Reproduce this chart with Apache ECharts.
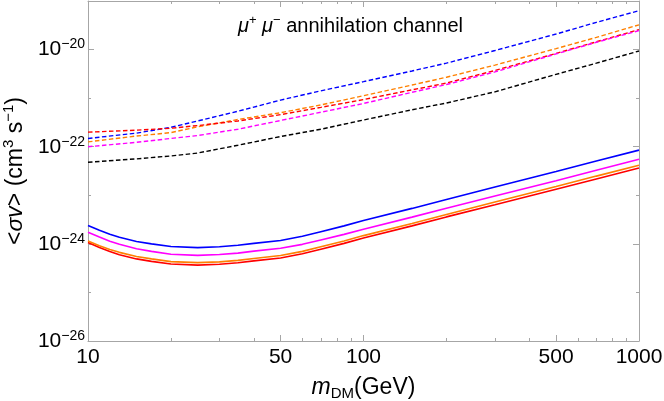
<!DOCTYPE html>
<html><head><meta charset="utf-8">
<script src="https://cdn.jsdelivr.net/npm/echarts@6/dist/echarts.min.js"></script>
<style>html,body{margin:0;padding:0;background:#fff}#c{width:664px;height:401px}</style>
</head><body><div id="c"></div>
<script>
// masses (GeV)
const massDashed = [10, 15, 20, 25, 35, 50, 70, 100, 150, 200, 300, 500, 700, 1000];
const massSolid  = [10, 11, 12, 13, 15, 17, 20, 25, 30, 35, 40, 50, 60, 70, 85, 100, 150, 200, 300, 500, 700, 1000];

// log10 of <sigma v> (cm^3 s^-1)
const blueDashedExp    = [-21.83,-21.72,-21.60,-21.47,-21.27,-21.04,-20.85,-20.66,-20.44,-20.28,-20.02,-19.68,-19.44,-19.20];
const orangeDashedExp  = [-21.90,-21.78,-21.71,-21.59,-21.44,-21.30,-21.14,-20.95,-20.73,-20.57,-20.32,-19.98,-19.75,-19.49];
const redDashedExp     = [-21.70,-21.66,-21.62,-21.565,-21.47,-21.34,-21.19,-21.03,-20.83,-20.69,-20.43,-20.08,-19.84,-19.59];
const magentaDashedExp = [-22.00,-21.91,-21.83,-21.77,-21.64,-21.46,-21.29,-21.11,-20.88,-20.72,-20.46,-20.09,-19.85,-19.61];
const blackDashedExp   = [-22.32,-22.25,-22.19,-22.13,-21.97,-21.79,-21.64,-21.45,-21.24,-21.10,-20.87,-20.51,-20.28,-20.03];

const blueSolidExp    = [-23.62,-23.72,-23.80,-23.865,-23.95,-24.00,-24.055,-24.077,-24.06,-24.03,-23.99,-23.93,-23.845,-23.75,-23.63,-23.52,-23.27,-23.085,-22.83,-22.51,-22.295,-22.07];
const magentaSolidExp = [-23.76,-23.86,-23.945,-24.01,-24.10,-24.155,-24.215,-24.237,-24.22,-24.19,-24.15,-24.09,-24.01,-23.92,-23.805,-23.70,-23.45,-23.265,-23.015,-22.70,-22.485,-22.26];
const orangeSolidExp  = [-23.94,-24.04,-24.115,-24.175,-24.26,-24.31,-24.365,-24.387,-24.37,-24.34,-24.30,-24.24,-24.155,-24.06,-23.94,-23.83,-23.58,-23.395,-23.14,-22.82,-22.605,-22.38];
const redSolidExp     = [-23.97,-24.075,-24.155,-24.225,-24.31,-24.36,-24.415,-24.437,-24.42,-24.39,-24.35,-24.29,-24.205,-24.11,-23.99,-23.88,-23.63,-23.445,-23.195,-22.875,-22.665,-22.44];

// ticks
const xMajorTicks = [10, 50, 100, 500, 1000];
const xMinorTicks = [20, 30, 40, 60, 70, 80, 90, 200, 300, 400, 600, 700, 800, 900];
const yMajorTicks = [1e-26, 1e-24, 1e-22, 1e-20];
const yMinorTicks = [1e-25, 1e-23, 1e-21];

const FONT = "'Liberation Sans', Arial, sans-serif";
const FRAME = '#a6a6a6';
const pairs = (m, e) => m.map((x, i) => [x, Math.pow(10, e[i])]);

const gridRect = { left: 88, right: 25, top: 1, bottom: 60, outerBoundsMode: 'none' };

function xAx(gridIndex, pos, ticks, len, showLine, showLabels, extra) {
  return Object.assign({
    type: 'log', logBase: 10, gridIndex, position: pos, min: 10, max: 1000,
    axisLine: { show: showLine, onZero: false, lineStyle: { color: FRAME, width: 1 } },
    axisTick: { show: true, inside: true, length: len, customValues: ticks, lineStyle: { color: FRAME, width: 1 } },
    axisLabel: showLabels ? { show: true, customValues: ticks, margin: 6, color: '#000', fontFamily: FONT, fontSize: 21,
      formatter: v => String(Math.round(v)) } : { show: false },
    splitLine: { show: false }, minorTick: { show: false }
  }, extra || {});
}
function yAx(gridIndex, pos, ticks, len, showLine, showLabels, extra) {
  return Object.assign({
    type: 'log', logBase: 10, gridIndex, position: pos, min: 1e-26, max: 1e-19,
    axisLine: { show: showLine, onZero: false, lineStyle: { color: FRAME, width: 1 } },
    axisTick: { show: true, inside: true, length: len, customValues: ticks, lineStyle: { color: FRAME, width: 1 } },
    axisLabel: showLabels ? { show: true, customValues: ticks, margin: 3, color: '#000', fontFamily: FONT,
      formatter: v => '{b|10}{sup|\u2212' + Math.abs(Math.round(Math.log10(v))) + '}',
      rich: {
        b: { fontSize: 21, fontFamily: FONT, color: '#000', lineHeight: 24 },
        sup: { fontSize: 14, fontFamily: FONT, color: '#000', lineHeight: 17, verticalAlign: 'top' }
      } } : { show: false },
    splitLine: { show: false }, minorTick: { show: false }
  }, extra || {});
}

function line(name, mass, exp, color, dashed) {
  return {
    type: 'line', name, xAxisIndex: 0, yAxisIndex: 0, data: pairs(mass, exp),
    showSymbol: false, smooth: false,
    lineStyle: { color, width: dashed ? 1.4 : 1.6, type: dashed ? [4.5, 2.5] : 'solid' },
    itemStyle: { color }, silent: true, z: dashed ? 3 : 4
  };
}

const chart = echarts.init(document.getElementById('c'), null, { renderer: 'canvas' });
chart.setOption({
  animation: false,
  backgroundColor: '#fff',
  title: {
    text: '{i|\u03bc}{sup|+} {i|\u03bc}{sup|\u2212} annihilation channel',
    left: 233, top: 9,
    textStyle: {
      fontFamily: FONT, fontSize: 20, fontWeight: 'normal', color: '#000',
      rich: {
        i: { fontFamily: FONT, fontSize: 20, fontStyle: 'italic', color: '#000', lineHeight: 24 },
        sup: { fontFamily: FONT, fontSize: 13, color: '#000', lineHeight: 16, verticalAlign: 'top' }
      }
    }
  },
  grid: [Object.assign({}, gridRect), Object.assign({}, gridRect)],
  xAxis: [
    xAx(0, 'bottom', xMajorTicks, 6, true, true, {
      name: '{i|m}{sub|DM}(GeV)', nameLocation: 'middle', nameGap: 34,
      nameTextStyle: { fontFamily: FONT, fontSize: 23, color: '#000',
        rich: {
          i: { fontFamily: FONT, fontSize: 23, fontStyle: 'italic', color: '#000', lineHeight: 26 },
          sub: { fontFamily: FONT, fontSize: 15, color: '#000', lineHeight: 20, verticalAlign: 'bottom' }
        } }
    }),
    xAx(0, 'top', xMajorTicks, 6, true, false),
    xAx(1, 'bottom', xMinorTicks, 3, false, false),
    xAx(1, 'top', xMinorTicks, 3, false, false)
  ],
  yAxis: [
    yAx(0, 'left', yMajorTicks, 6, true, true, {
      name: '<{i|\u03c3v}> (cm{sup|3} s{sup|\u22121})', nameLocation: 'middle', nameRotate: 90, nameGap: 57,
      nameTextStyle: { fontFamily: FONT, fontSize: 23, color: '#000',
        rich: {
          i: { fontFamily: FONT, fontSize: 23, fontStyle: 'italic', color: '#000', lineHeight: 28 },
          sup: { fontFamily: FONT, fontSize: 15, color: '#000', lineHeight: 18, verticalAlign: 'top' }
        } }
    }),
    yAx(0, 'right', yMajorTicks, 6, true, false),
    yAx(1, 'left', yMinorTicks, 3, false, false),
    yAx(1, 'right', yMinorTicks, 3, false, false)
  ],
  series: [
    line('blue dashed', massDashed, blueDashedExp, '#0000ff', true),
    line('orange dashed', massDashed, orangeDashedExp, '#ff8000', true),
    line('red dashed', massDashed, redDashedExp, '#ff0000', true),
    line('magenta dashed', massDashed, magentaDashedExp, '#ff00ff', true),
    line('black dashed', massDashed, blackDashedExp, '#000000', true),
    line('blue solid', massSolid, blueSolidExp, '#0000ff', false),
    line('magenta solid', massSolid, magentaSolidExp, '#ff00ff', false),
    line('red solid', massSolid, redSolidExp, '#ff0000', false),
    line('orange solid', massSolid, orangeSolidExp, '#ff8000', false)
  ]
});
</script></body></html>
